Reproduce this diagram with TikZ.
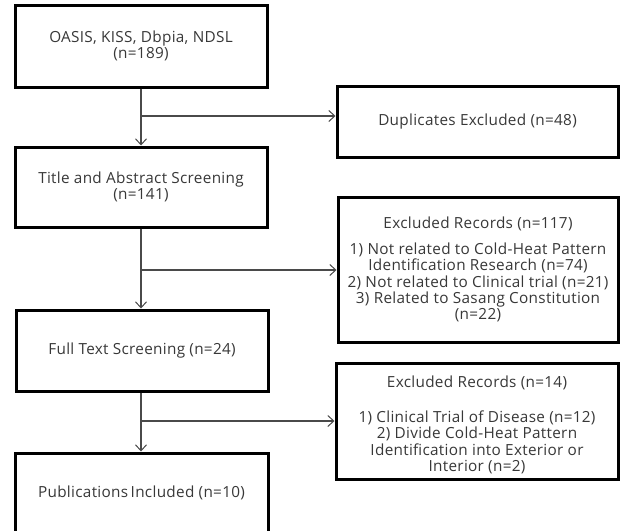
\documentclass[tikz,border=0pt]{standalone}
\usepackage{fontspec}
\setmainfont{Open Sans}[LetterSpace=2]
\usetikzlibrary{arrows.meta}
\definecolor{txt}{HTML}{383838}
\definecolor{ln}{HTML}{4A4A4A}
\tikzset{
  box/.style={draw=black, line width=3pt, fill=white, inner sep=0pt, align=center,
    text=txt, font=\fontsize{15.3}{16.3}\selectfont},
  conn/.style={draw=ln, line width=1.2pt, -{Straight Barb[length=6pt,width=11pt,line width=1pt]}},
}
\begin{document}
\begin{tikzpicture}[x=1pt,y=-1pt]
\useasboundingbox (0,0) rectangle (620,530);
\node[box, minimum width=252pt, minimum height=82pt] (b1) at (141,46)
  {OASIS, KISS, Dbpia, NDSL\\(n=189)};
\node[box, minimum width=252pt, minimum height=80pt] (b2) at (141,187)
  {Title and Abstract Screening\\(n=141)};
\node[box, minimum width=252pt, minimum height=81pt] (b3) at (142,350.5)
  {Full Text Screening (n=24)};
\node[box, minimum width=253pt, minimum height=80pt] (b4) at (141.5,493)
  {Publications\,Included (n=10)};
\node[box, minimum width=281pt, minimum height=71pt] (d1) at (477.5,121.5)
  {Duplicates Excluded (n=48)};
\node[box, minimum width=280pt, minimum height=145pt] (e1) at (478,269.5)
  {Excluded Records (n=117)\\[10pt]
   1) Not related to Cold-Heat Pattern\\
   Identification Research (n=74)\\
   2) Not related to Clinical trial (n=21)\\
   3) Related to Sasang Constitution\\
   (n=22)};
\node[box, minimum width=282pt, minimum height=116pt] (e2) at (477,421)
  {\rule{0pt}{19pt}Excluded Records (n=14)\\[19pt]
   1) Clinical Trial of Disease (n=12)\\
   2) Divide Cold-Heat Pattern\\
   Identification into Exterior or\\
   Interior (n=2)};
\coordinate (j1) at (141,116);
\coordinate (j2) at (141,270);
\coordinate (j3) at (141,421);
\draw[conn] (b1.south -| j1) -- (b2.north -| j1);
\draw[conn] (b2.south -| j2) -- (b3.north -| j2);
\draw[conn] (b3.south -| j3) -- (b4.north -| j3);
\draw[conn] (j1) -- (d1.west |- j1);
\draw[conn] (j2) -- (e1.west |- j2);
\draw[conn] (j3) -- (e2.west |- j3);
\end{tikzpicture}
\end{document}
